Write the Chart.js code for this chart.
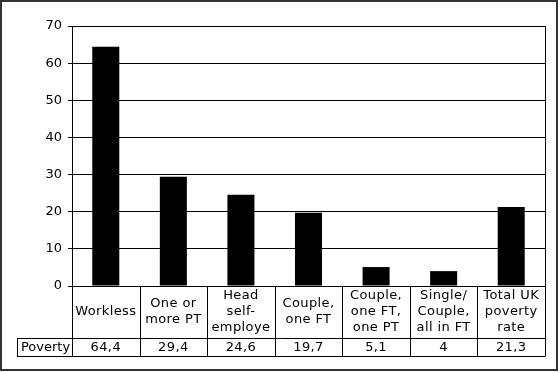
<!DOCTYPE html>
<html lang="en">
<head>
    <meta charset="utf-8">
    <title>Poverty by work status</title>
    <script src="https://cdn.jsdelivr.net/npm/chart.js"></script>
    <style>
        body { margin: 0; background: #fff; }
    </style>
</head>
<body>
    <canvas id="povertyChart" width="560" height="373"></canvas>

    <script>
        // data
        const categories = [
            ["Workless"],
            ["One or", "more PT"],
            ["Head", "self-", "employe"],
            ["Couple,", "one FT"],
            ["Couple,", "one FT,", "one PT"],
            ["Single/", "Couple,", "all in FT"],
            ["Total UK", "poverty", "rate"]
        ];
        const povertyValues = [64.4, 29.4, 24.6, 19.7, 5.1, 4, 21.3];
        const valueLabels = ["64,4", "29,4", "24,6", "19,7", "5,1", "4", "21,3"];
        const seriesName = "Poverty";
        const yTicks = [0, 10, 20, 30, 40, 50, 60, 70];

        const FONT = "13px 'DejaVu Sans', Verdana, sans-serif";

        // draws the frame, plot border and the data table under the bars
        const tablePlugin = {
            id: 'dataTable',
            afterDraw(chart) {
                const c = chart.ctx;
                const area = chart.chartArea;
                const x = chart.scales.x;
                const n = categories.length;
                const colW = (area.right - area.left) / n;
                const headTop = area.bottom;
                const headBottom = area.bottom + 52;
                const rowBottom = headBottom + 18;
                const labelLeft = 17;

                c.save();
                c.strokeStyle = '#000';
                c.lineWidth = 1;

                // plot box
                c.strokeRect(area.left + 0.5, area.top + 0.5, area.right - area.left, area.bottom - area.top);

                // header row
                c.beginPath();
                c.moveTo(labelLeft, headBottom + 0.5);
                c.lineTo(area.right + 0.5, headBottom + 0.5);
                c.moveTo(labelLeft, rowBottom + 0.5);
                c.lineTo(area.right + 0.5, rowBottom + 0.5);
                c.moveTo(labelLeft + 0.5, headBottom);
                c.lineTo(labelLeft + 0.5, rowBottom);
                for (let i = 0; i <= n; i++) {
                    const px = Math.round(area.left + i * colW) + 0.5;
                    c.moveTo(px, headTop);
                    c.lineTo(px, rowBottom);
                }
                c.stroke();

                c.fillStyle = '#000';
                c.font = FONT;
                c.letterSpacing = '0.4px';
                c.textAlign = 'center';
                c.textBaseline = 'middle';
                const lineH = 16;
                const midHead = (headTop + headBottom) / 2;
                const midRow = (headBottom + rowBottom) / 2 + 1;
                categories.forEach((lines, i) => {
                    const cx = x.getPixelForValue(i);
                    const start = midHead - (lines.length - 1) * lineH / 2;
                    lines.forEach((t, j) => c.fillText(t, cx, start + j * lineH));
                    c.fillText(valueLabels[i], cx, midRow);
                });
                c.letterSpacing = '0px';
                c.textAlign = 'center';
                c.fillText(seriesName, (labelLeft + area.left) / 2 + 1, midRow);

                // outer frame
                c.strokeStyle = '#333';
                c.lineWidth = 2;
                c.strokeRect(1, 1, 556, 369);
                c.restore();
            }
        };

        const ctx = document.getElementById("povertyChart").getContext("2d");
        let povertyChart = new Chart(ctx, {
            type: 'bar',
            data: {
                labels: categories.map(l => l.join(' ')),
                datasets: [{
                    label: seriesName,
                    backgroundColor: "#000",
                    borderWidth: 0,
                    data: povertyValues,
                    categoryPercentage: 1,
                    barPercentage: 0.4
                }],
            },
            options: {
                responsive: false,
                animation: false,
                devicePixelRatio: 1,
                layout: {
                    padding: { left: 0, right: 15, top: 26, bottom: 87 }
                },
                scales: {
                    x: {
                        display: false,
                        offset: true
                    },
                    y: {
                        min: 0,
                        max: 70,
                        afterFit(scale) { scale.width = 72; },
                        afterBuildTicks(scale) { scale.ticks = yTicks.map(v => ({ value: v })); },
                        border: { display: true, color: '#000', width: 1 },
                        grid: {
                            color: '#000',
                            lineWidth: 1,
                            drawTicks: true,
                            tickLength: 4
                        },
                        ticks: {
                            color: '#000',
                            padding: 6,
                            font: { family: "'DejaVu Sans', Verdana, sans-serif", size: 13 }
                        }
                    },
                },
                plugins: {
                    legend: { display: false },
                    tooltip: { enabled: false }
                }
            },
            plugins: [tablePlugin]
        });
    </script>
</body>
</html>
